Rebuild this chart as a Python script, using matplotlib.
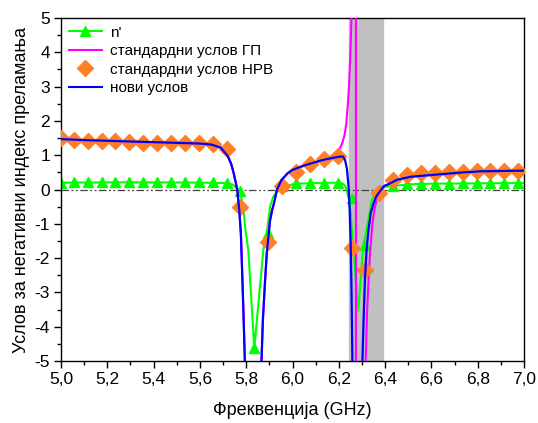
import matplotlib.pyplot as plt
from matplotlib.lines import Line2D
from matplotlib.ticker import MultipleLocator, FuncFormatter

plt.rcParams['font.family'] = ['Liberation Sans', 'DejaVu Sans']

# ознаке (маркери) - фреквенције
f_mark = [5.0, 5.055, 5.115, 5.175, 5.235, 5.295, 5.355, 5.415, 5.475, 5.535,
          5.595, 5.655, 5.715, 5.775, 5.835, 5.895, 5.955, 6.015, 6.075, 6.135,
          6.195, 6.255, 6.315, 6.375, 6.435, 6.495, 6.555, 6.615, 6.675, 6.735,
          6.795, 6.855, 6.915, 6.975]
n_mark = [0.2, 0.21, 0.21, 0.21, 0.21, 0.21, 0.21, 0.21, 0.21, 0.21,
          0.21, 0.21, 0.2, -0.04, -4.63, -1.26, 0.1, 0.18, 0.18, 0.2,
          0.2, -0.25, -1.62, 0.0, 0.1, 0.15, 0.16, 0.17, 0.17, 0.18,
          0.18, 0.18, 0.19, 0.19]
nrv_mark = [1.5, 1.44, 1.42, 1.41, 1.40, 1.39, 1.37, 1.36, 1.36, 1.35,
            1.35, 1.33, 1.17, -0.52, -8.0, -1.52, 0.11, 0.52, 0.74, 0.88,
            0.98, -1.71, -2.35, -0.1, 0.28, 0.42, 0.47, 0.49, 0.5, 0.52,
            0.54, 0.54, 0.55, 0.55]

# n' линија
f_n = [5.0, 5.3, 5.6, 5.7, 5.74, 5.76, 5.775, 5.787, 5.797, 5.809, 5.835,
       5.874, 5.889, 5.903, 5.917, 5.939, 5.975, 6.01, 6.1, 6.2, 6.215,
       6.228, 6.237, 6.244, 6.252, 6.263, 6.284, 6.306, 6.32, 6.342, 6.368,
       6.40, 6.435, 6.5, 6.6, 6.8, 7.0]
n_val = [0.2, 0.21, 0.2, 0.19, 0.15, 0.05, -0.1, -0.5, -1.2, -1.76, -4.63,
         -1.76, -1.26, -0.5, -0.21, 0.0, 0.1, 0.17, 0.19, 0.2, 0.18,
         0.1, -0.1, -0.3, -0.74, -1.76, -3.54, -1.62, -1.18, -0.31, 0.02,
         0.08, 0.1, 0.15, 0.17, 0.18, 0.19]

# нови услов
f_new = [5.0, 5.1, 5.2, 5.3, 5.4, 5.5, 5.6, 5.65, 5.69, 5.72, 5.735, 5.745,
         5.755, 5.762, 5.77, 5.777, 5.783, 5.789, 5.795, 5.83, 5.866, 5.872,
         5.882, 5.889, 5.897, 5.903, 5.912, 5.92, 5.933, 5.953, 5.98, 6.0,
         6.03, 6.06, 6.09, 6.12, 6.15, 6.18, 6.205, 6.218, 6.227, 6.235,
         6.242, 6.247, 6.251, 6.255, 6.259, 6.28, 6.302, 6.307, 6.313, 6.32,
         6.328, 6.338, 6.35, 6.361, 6.378, 6.395, 6.413, 6.45, 6.508, 6.594,
         6.72, 6.81, 7.0]
new_val = [1.47, 1.44, 1.42, 1.40, 1.38, 1.36, 1.34, 1.31, 1.22, 0.98, 0.75, 0.5,
           0.2, -0.05, -0.6, -1.3, -2.5, -3.8, -5.2, -20, -5.0, -3.8,
           -2.6, -1.85, -1.3, -0.9, -0.6, -0.4, 0.0, 0.28, 0.48, 0.57,
           0.65, 0.72, 0.78, 0.84, 0.89, 0.93, 0.96, 0.96, 0.86, 0.6,
           0.1, -0.6, -1.5, -3.0, -5.2, -20, -5.0, -3.8, -2.6, -1.76,
           -1.18, -0.69, -0.4, -0.21, -0.05, 0.1, 0.15, 0.28, 0.37, 0.42,
           0.49, 0.53, 0.55]

# стандардни услов ГП
f_gp = [5.0, 5.1, 5.2, 5.3, 5.4, 5.5, 5.6, 5.65, 5.69, 5.72, 5.735, 5.745,
        5.755, 5.762, 5.77, 5.777, 5.783, 5.789, 5.795, 5.83, 5.866, 5.872,
        5.882, 5.889, 5.897, 5.903, 5.912, 5.92, 5.933, 5.953, 5.98, 6.0,
        6.03, 6.06, 6.09, 6.12, 6.15, 6.17, 6.19, 6.205, 6.215, 6.225,
        6.232, 6.238, 6.244, 6.249, 6.253, 6.256, 6.262, 6.2735, 6.2745, 6.30,
        6.316, 6.322, 6.33, 6.336, 6.345, 6.355, 6.365, 6.38, 6.395, 6.413,
        6.45, 6.508, 6.594, 6.72, 6.81, 7.0]
gp_val = [1.47, 1.44, 1.42, 1.40, 1.38, 1.36, 1.34, 1.31, 1.22, 0.98, 0.75, 0.5,
          0.2, -0.05, -0.6, -1.3, -2.5, -3.8, -5.2, -20, -5.0, -3.8,
          -2.6, -1.85, -1.3, -0.9, -0.6, -0.4, 0.0, 0.28, 0.48, 0.57,
          0.65, 0.72, 0.78, 0.84, 0.9, 0.98, 1.1, 1.2, 1.35, 1.6,
          1.9, 2.4, 3.0, 3.8, 4.6, 5.3, 8.0, 40, -40, -10,
          -5.0, -3.6, -2.4, -1.76, -1.0, -0.55, -0.25, -0.05, 0.1, 0.15,
          0.28, 0.37, 0.42, 0.49, 0.53, 0.55]

fig = plt.figure(figsize=(5.38, 4.23), dpi=100)
ax = fig.add_axes([0.1134, 0.1466, 0.8606, 0.8108])

ax.axvspan(6.245, 6.39, color='#c0c0c0', zorder=0)
ax.axhline(0, color='#404040', lw=0.9, dashes=(6, 2, 1.5, 2, 1.5, 2), zorder=1)

ax.plot(f_n, n_val, color='#00ff00', lw=1.5, zorder=2)
ax.plot(f_mark, n_mark, ls='none', marker='^', ms=7.5, color='#00ff00', zorder=2)
ax.plot(f_gp, gp_val, color='#ff00ff', lw=1.5, zorder=3)
ax.plot(f_mark, nrv_mark, ls='none', marker='D', ms=8, color='#ff7f27', zorder=4)
ax.plot(f_new, new_val, color='#0000ff', lw=1.6, zorder=5)

ax.set_xlim(5.0, 7.0)
ax.set_ylim(-5, 5)
ax.xaxis.set_major_locator(MultipleLocator(0.2))
ax.xaxis.set_minor_locator(MultipleLocator(0.1))
ax.yaxis.set_major_locator(MultipleLocator(1))
ax.yaxis.set_minor_locator(MultipleLocator(0.5))
ax.xaxis.set_major_formatter(FuncFormatter(lambda v, p: f'{v:.1f}'.replace('.', ',')))
ax.yaxis.set_major_formatter(FuncFormatter(lambda v, p: f'{v:.0f}'))
ax.tick_params(which='major', direction='out', length=5, width=1, labelsize=12.5, pad=3)
ax.tick_params(which='minor', direction='out', length=3, width=1)
for s in ax.spines.values():
    s.set_linewidth(1.0)

ax.set_xlabel('Фреквенција (GHz)', fontsize=13, labelpad=11)
ax.set_ylabel('Услов за негативни индекс преламања', fontsize=13, labelpad=3)

handles = [
    Line2D([], [], color='#00ff00', lw=1.5, marker='^', ms=7.5),
    Line2D([], [], color='#ff00ff', lw=1.5),
    Line2D([], [], color='#ff7f27', ls='none', marker='D', ms=8),
    Line2D([], [], color='#0000ff', lw=1.5),
]
labels = ["n'", 'стандардни услов ГП', 'стандардни услов НРВ', 'нови услов']
ax.legend(handles, labels, loc='upper left', frameon=False, fontsize=11,
          handlelength=2.2, borderaxespad=0.2, borderpad=0.3,
          labelspacing=0.3, handletextpad=0.5)

fig.savefig('out.png', dpi=100)
